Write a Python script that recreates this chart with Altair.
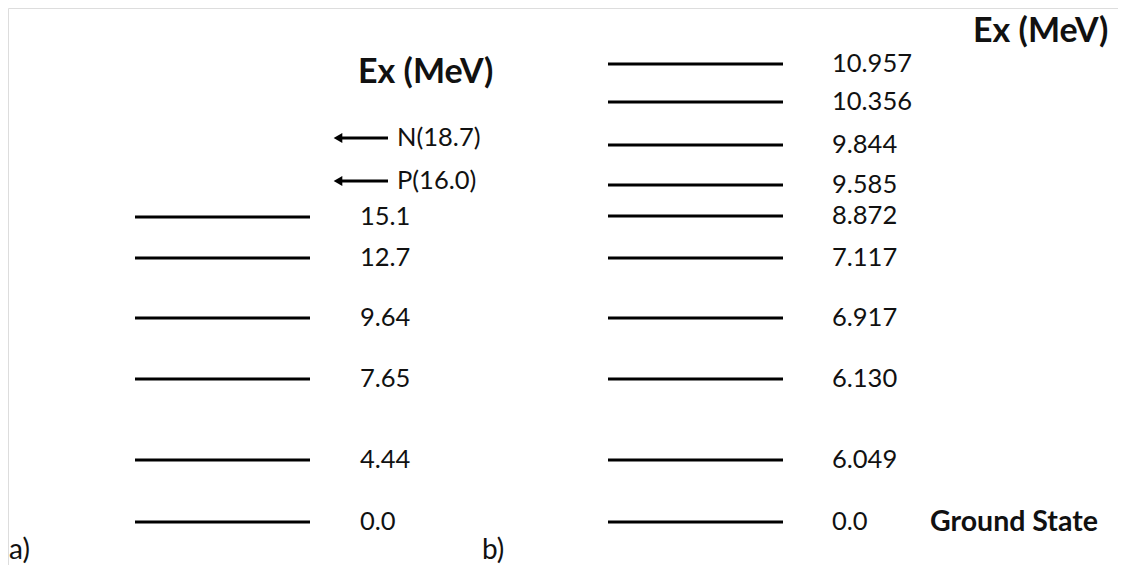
import altair as alt
import pandas as pd

# ---- data ----
a_labels = ["15.1", "12.7", "9.64", "7.65", "4.44", "0.0"]
a_heights = [305, 264, 204, 143, 62, 0]          # schematic level heights (diagram units)
b_labels = ["10.957", "10.356", "9.844", "9.585", "8.872", "7.117", "6.917", "6.130", "6.049", "0.0"]
b_heights = [458, 420, 377, 337, 306, 264, 204, 143, 62, 0]
arrow_labels = ["N(18.7)", "P(16.0)"]
arrow_heights = [384, 341]

FONT = "Lato"
# panel layout (x positions in page pixels)
A_X1, A_X2, A_LAB = 135, 310, 360
B_X1, B_X2, B_LAB = 608, 783, 832

levels = pd.DataFrame(
    [{"x": A_X1, "x2": A_X2, "y": h, "label": l, "lx": A_LAB} for l, h in zip(a_labels, a_heights)]
    + [{"x": B_X1, "x2": B_X2, "y": h, "label": l, "lx": B_LAB} for l, h in zip(b_labels, b_heights)]
)
arrows = pd.DataFrame(
    [{"x": 338, "x2": 388, "y": h, "label": l, "lx": 397} for l, h in zip(arrow_labels, arrow_heights)]
)
titles = pd.DataFrame([
    {"x": 358, "y": 449, "t": "Ex (MeV)"},
    {"x": 973, "y": 490, "t": "Ex (MeV)"},
])
ground = pd.DataFrame([{"x": 930, "y": 0, "t": "Ground State"}])
panels = pd.DataFrame([
    {"x": 9, "y": -29, "t": "a)"},
    {"x": 482, "y": -29, "t": "b)"},
])

xs = alt.Scale(domain=[8, 1118], nice=False, zero=False)
ys = alt.Scale(domain=[-43, 514], nice=False, zero=False)
X = lambda f: alt.X(f, type="quantitative", scale=xs, axis=None)
Y = lambda f: alt.Y(f, type="quantitative", scale=ys, axis=None)

lines = alt.Chart(levels).mark_rule(color="black", strokeWidth=3).encode(
    x=X("x"), x2="x2", y=Y("y"))
labels = alt.Chart(levels).mark_text(
    align="left", baseline="middle", font=FONT, fontSize=25.5, color="#111"
).encode(x=X("lx"), y=Y("y"), text="label")

shafts = alt.Chart(arrows).mark_rule(color="black", strokeWidth=3).encode(
    x=X("x"), x2="x2", y=Y("y"))
heads = alt.Chart(arrows).mark_point(
    shape="triangle-left", filled=True, color="black", size=100, opacity=1
).encode(x=X("x"), y=Y("y"))
alabels = alt.Chart(arrows).mark_text(
    align="left", baseline="middle", font=FONT, fontSize=25.5, color="#111"
).encode(x=X("lx"), y=Y("y"), text="label")

tt = alt.Chart(titles).mark_text(
    align="left", baseline="middle", font=FONT, fontSize=34, fontWeight="bold", color="#111"
).encode(x=X("x"), y=Y("y"), text="t")
gs = alt.Chart(ground).mark_text(
    align="left", baseline="middle", font=FONT, fontSize=28.5, fontWeight="bold", color="#111"
).encode(x=X("x"), y=Y("y"), text="t")
pl = alt.Chart(panels).mark_text(
    align="left", baseline="middle", font=FONT, fontSize=28, color="#111"
).encode(x=X("x"), y=Y("y"), text="t")

chart = alt.layer(lines, labels, shafts, heads, alabels, tt, gs, pl).properties(
    width=1110, height=557, padding=0,
    autosize=alt.AutoSizeParams(type="fit", contains="padding"),
).configure_view(strokeWidth=0, stroke="transparent").configure(background="white")

chart.save("out.html", embed_options={"renderer": "svg", "actions": False})
